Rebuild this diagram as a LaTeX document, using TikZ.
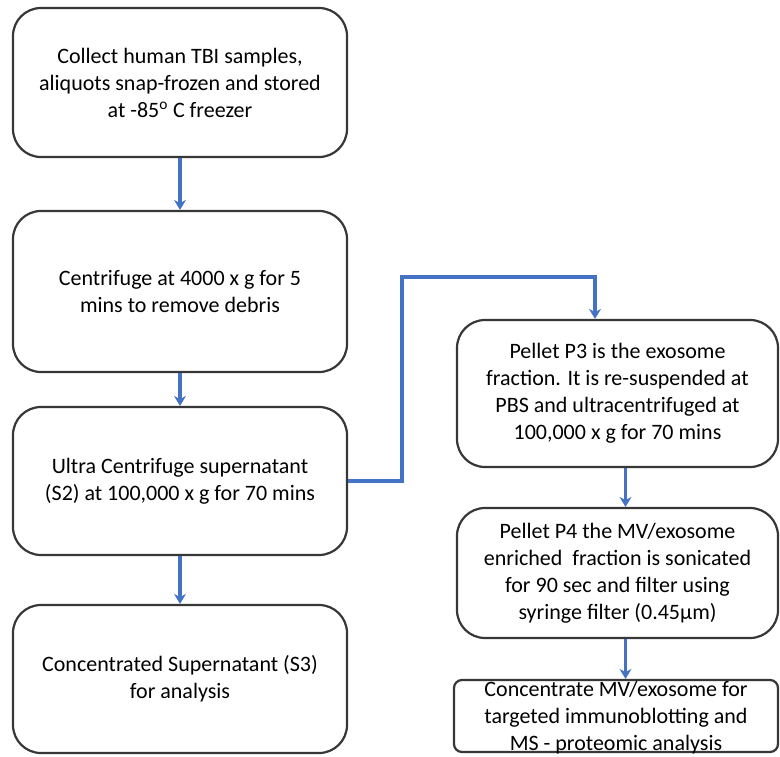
\documentclass[tikz,border=0pt]{standalone}
\usepackage{fontspec}
\setmainfont{Carlito}
\usetikzlibrary{arrows.meta}
\definecolor{flowblue}{RGB}{68,114,196}
\definecolor{boxgray}{RGB}{55,55,55}
\tikzset{
  stepbox/.style={draw=boxgray,line width=2.2pt,rounded corners=28pt,fill=white,
    align=center,inner sep=0pt,font=\fontsize{22}{27}\selectfont},
  flatbox/.style={stepbox,rounded corners=8pt},
  boxtext/.style={align=center,inner sep=0pt,font=\fontsize{22}{27}\selectfont},
  flow/.style={->,flowblue,line width=3.4pt}
}
\begin{document}
\begin{tikzpicture}[x=1pt,y=-1pt,>={Stealth[length=10pt,width=12pt]}]
        \useasboundingbox (0,0) rectangle (780,756);
        % colonna sinistra
        \node[stepbox,minimum width=334pt,minimum height=149pt] (collect) at (180,82.5)
            {Collect human TBI samples,\\aliquots snap-frozen and stored\\at -85\textsuperscript{o} C freezer};
        \node[stepbox,minimum width=334pt,minimum height=161pt] (spin) at (180,291.5)
            {Centrifuge at 4000 x g for 5\\mins to remove debris};
        \node[stepbox,minimum width=334pt,minimum height=148pt] (ultra) at (180,481)
            {Ultra Centrifuge supernatant\\(S2) at 100,000 x g for 70 mins};
        \node[stepbox,minimum width=334pt,minimum height=148pt] (super) at (180,679)
            {Concentrated Supernatant (S3)\\for analysis};
        % colonna destra
        \node[stepbox,minimum width=321pt,minimum height=147pt] (pthree) at (617.5,393.5)
            {Pellet P3 is the exosome\\fraction. It is re-suspended at\\PBS and ultracentrifuged at\\100,000 x g for 70 mins};
        \node[stepbox,minimum width=321pt,minimum height=130pt] (pfour) at (617.5,573)
            {Pellet P4 the MV/exosome\\enriched\ \ fraction is sonicated\\for 90 sec and filter using\\syringe filter (0.45\textmu m)};
        \node[flatbox,minimum width=324pt,minimum height=72pt] (conc) at (616,716) {};
        \node[boxtext] (conctext) at (616,718)
            {Concentrate MV/exosome for\\targeted immunoblotting and\\MS - proteomic analysis};
        % frecce
        \draw[flow] (collect) -- (spin);
        \draw[flow] (spin) -- (ultra);
        \draw[flow] (ultra) -- (super);
        \coordinate (up) at (402,277);
        \coordinate (over) at (595,277);
        \draw[flow] (ultra.east) -| (up) -- (over) -- (over |- pthree.north);
        \draw[flow] ([xshift=8pt]pthree.south) -- ([xshift=8pt]pthree.south |- pfour.north);
        \draw[flow] ([xshift=8pt]pfour.south) -- ([xshift=8pt]pfour.south |- conc.north);
    \end{tikzpicture}
\end{document}
